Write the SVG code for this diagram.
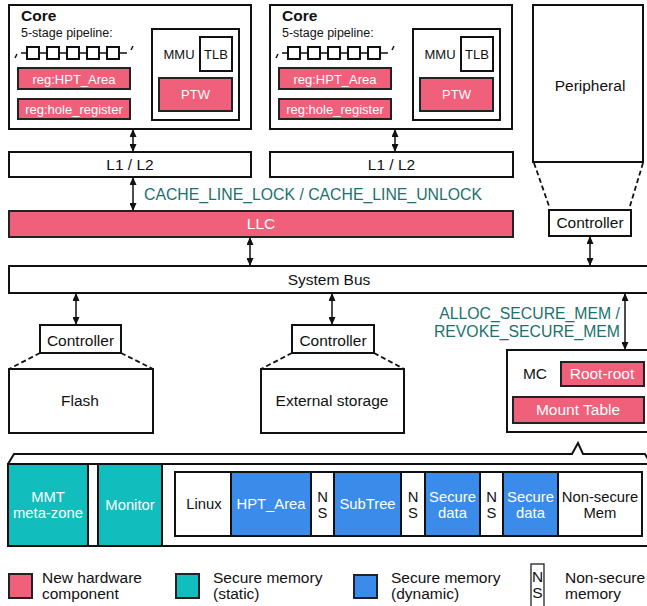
<svg xmlns="http://www.w3.org/2000/svg" width="647" height="606" viewBox="0 0 647 606">
<defs>
<style>
text{font-family:"Liberation Sans",Arial,sans-serif;fill:#111}
.box{fill:#fff;stroke:#111;stroke-width:2}
.red{fill:#F0607A;stroke:#222;stroke-width:2}
.teal{fill:#12BDBD;stroke:#111;stroke-width:2}
.blue{fill:#3B8BEA;stroke:#111;stroke-width:2}
.wt{fill:#fff}
.m{font-size:15.5px}
.s{font-size:13px}
.b{font-size:14.8px}
.g{fill:#1B716E;font-size:15.8px}
.c{text-anchor:middle}
.ln{stroke:#111;stroke-width:1.5;fill:none}
.dash{stroke:#111;stroke-width:1.8;stroke-dasharray:5,3;fill:none}
</style>
<marker id="ah" viewBox="0 0 8 7" markerWidth="8" markerHeight="7" refX="8" refY="3.5" orient="auto-start-reverse" markerUnits="userSpaceOnUse">
<path d="M0,0 L8,3.5 L0,7 z" fill="#111"/>
</marker>
<g id="coreTpl">
<rect class="box" x="9" y="5" width="242" height="124"/>
<text x="21" y="21" style="font-size:15.5px;font-weight:bold">Core</text>
<text x="21" y="37" style="font-size:12.5px">5-stage pipeline:</text>
<path class="ln" d="M15,58 L17,54 M21,53 L127,53 M131,50 L133,46"/>
<rect class="box" x="27" y="47" width="12" height="12" stroke-width="1.6"/>
<rect class="box" x="47" y="47" width="12" height="12" stroke-width="1.6"/>
<rect class="box" x="67" y="47" width="12" height="12" stroke-width="1.6"/>
<rect class="box" x="87" y="47" width="12" height="12" stroke-width="1.6"/>
<rect class="box" x="107" y="47" width="12" height="12" stroke-width="1.6"/>
<rect class="red" x="18" y="68" width="112" height="21"/>
<text class="s c wt" x="74" y="83.5">reg:HPT_Area</text>
<rect class="red" x="18" y="99" width="112" height="20"/>
<text class="s c wt" x="74" y="114">reg:hole_register</text>
<rect class="box" x="152" y="29" width="87" height="91"/>
<text class="s c" x="179" y="59">MMU</text>
<rect class="box" x="200" y="37" width="32" height="34"/>
<text class="s c" x="216" y="59">TLB</text>
<rect class="red" x="159" y="78" width="73" height="33"/>
<text class="s c wt" x="195.5" y="99">PTW</text>
</g>
</defs>

<g id="connectors">
<line class="ln" x1="133" y1="129" x2="133" y2="152" marker-start="url(#ah)" marker-end="url(#ah)"/>
<line class="ln" x1="395" y1="129" x2="395" y2="152" marker-start="url(#ah)" marker-end="url(#ah)"/>
<line class="ln" x1="133" y1="177" x2="133" y2="211" marker-start="url(#ah)" marker-end="url(#ah)"/>
<line class="ln" x1="250" y1="237" x2="250" y2="266" marker-start="url(#ah)" marker-end="url(#ah)"/>
<line class="ln" x1="590" y1="236" x2="590" y2="266" marker-start="url(#ah)" marker-end="url(#ah)"/>
<line class="ln" x1="76" y1="293" x2="76" y2="325" marker-start="url(#ah)" marker-end="url(#ah)"/>
<line class="ln" x1="332" y1="293" x2="332" y2="325" marker-start="url(#ah)" marker-end="url(#ah)"/>
<line class="ln" x1="625" y1="293" x2="625" y2="350" marker-start="url(#ah)" marker-end="url(#ah)"/>
<path class="dash" d="M534,163 L549,206 M643,163 L630,206"/>
<path class="dash" d="M40,353 L9,369 M121,353 L153,369"/>
<path class="dash" d="M292,353 L261,369 M374,353 L404,369"/>
<text class="g" x="144" y="200">CACHE_LINE_LOCK / CACHE_LINE_UNLOCK</text>
<text class="g" x="620" y="319" text-anchor="end">ALLOC_SECURE_MEM /</text>
<text class="g" x="620" y="337" text-anchor="end">REVOKE_SECURE_MEM</text>
</g>

<g id="core1"><use href="#coreTpl"/></g>
<g id="core2"><use href="#coreTpl" transform="translate(261,0)"/></g>

<g id="peripheral">
<rect class="box" x="533" y="5" width="110" height="157"/>
<text class="m c" x="590" y="91">Peripheral</text>
</g>

<g id="l1l2-1">
<rect class="box" x="9" y="152" width="242" height="25"/>
<text class="m c" x="130" y="170">L1 / L2</text>
</g>
<g id="l1l2-2">
<rect class="box" x="270" y="152" width="243" height="25"/>
<text class="m c" x="391.5" y="170">L1 / L2</text>
</g>

<g id="llc">
<rect class="red" x="9" y="211" width="504" height="26"/>
<text class="m c wt" x="261" y="229">LLC</text>
</g>

<g id="controller-periph">
<rect class="box" x="549" y="210" width="82" height="26"/>
<text class="m c" x="590" y="228">Controller</text>
</g>

<g id="system-bus">
<rect class="box" x="9" y="266" width="700" height="27"/>
<text class="m c" x="329" y="285">System Bus</text>
</g>

<g id="controller-flash">
<rect class="box" x="40" y="325" width="81" height="28"/>
<text class="m c" x="80.5" y="346">Controller</text>
</g>
<g id="flash">
<rect class="box" x="9" y="369" width="144" height="64"/>
<text class="m c" x="80" y="406">Flash</text>
</g>

<g id="controller-ext">
<rect class="box" x="292" y="325" width="82" height="28"/>
<text class="m c" x="333" y="346">Controller</text>
</g>
<g id="external-storage">
<rect class="box" x="261" y="369" width="143" height="64"/>
<text class="m c" x="332" y="406">External storage</text>
</g>

<g id="mc">
<rect class="box" x="507" y="350" width="200" height="82"/>
<text class="m c" x="535" y="379">MC</text>
<rect class="red" x="561" y="362" width="83" height="24"/>
<text class="m c wt" x="602" y="379">Root-root</text>
<rect class="red" x="513" y="397" width="131" height="26"/>
<text class="m c wt" x="578" y="415">Mount Table</text>
</g>

<g id="memory-callout">
<path d="M8,464 L14,454 L572,454 L578,443 L583,454 L645,454 L648,459" fill="none" stroke="#111" stroke-width="2"/>
</g>

<g id="memory">
<rect class="box" x="8" y="464" width="700" height="82"/>
<rect class="teal" x="8" y="464" width="80" height="82"/>
<text class="b c wt" x="48" y="502">MMT</text>
<text class="b c wt" x="48" y="518">meta-zone</text>
<rect class="teal" x="98" y="464" width="64" height="82"/>
<text class="b c wt" x="130" y="510">Monitor</text>
<rect class="box" x="175" y="472" width="467" height="64"/>
<text class="b c" x="204" y="509">Linux</text>
<rect class="blue" x="231" y="472" width="80" height="64"/>
<text class="b c wt" x="271" y="509">HPT_Area</text>
<text class="b c" x="322.5" y="502">N</text>
<text class="b c" x="322.5" y="518">S</text>
<rect class="blue" x="334" y="472" width="67" height="64"/>
<text class="b c wt" x="367.5" y="509">SubTree</text>
<text class="b c" x="413" y="502">N</text>
<text class="b c" x="413" y="518">S</text>
<rect class="blue" x="425" y="472" width="55" height="64"/>
<text class="b c wt" x="452.5" y="502">Secure</text>
<text class="b c wt" x="452.5" y="518">data</text>
<text class="b c" x="491.5" y="502">N</text>
<text class="b c" x="491.5" y="518">S</text>
<rect class="blue" x="503" y="472" width="55" height="64"/>
<text class="b c wt" x="530.5" y="502">Secure</text>
<text class="b c wt" x="530.5" y="518">data</text>
<text class="b c" x="600" y="502">Non-secure</text>
<text class="b c" x="600" y="518">Mem</text>
</g>

<g id="legend">
<rect x="9" y="574" width="23" height="24" fill="#F0607A" stroke="#222" stroke-width="2"/>
<text class="m" x="42" y="583">New hardware</text>
<text class="m" x="42" y="599">component</text>
<rect x="176" y="574" width="23" height="24" fill="#12BDBD" stroke="#222" stroke-width="2"/>
<text class="m" x="213" y="583">Secure memory</text>
<text class="m" x="213" y="599">(static)</text>
<rect x="354" y="575" width="23" height="23" fill="#3B8BEA" stroke="#222" stroke-width="2"/>
<text class="m" x="391" y="583">Secure memory</text>
<text class="m" x="391" y="599">(dynamic)</text>
<rect x="531" y="564" width="13" height="50" fill="#fff" stroke="#222" stroke-width="1.3"/>
<text class="m c" x="537.5" y="582">N</text>
<text class="m c" x="537.5" y="598">S</text>
<text class="m" x="565" y="583">Non-secure</text>
<text class="m" x="565" y="599">memory</text>
</g>
</svg>
